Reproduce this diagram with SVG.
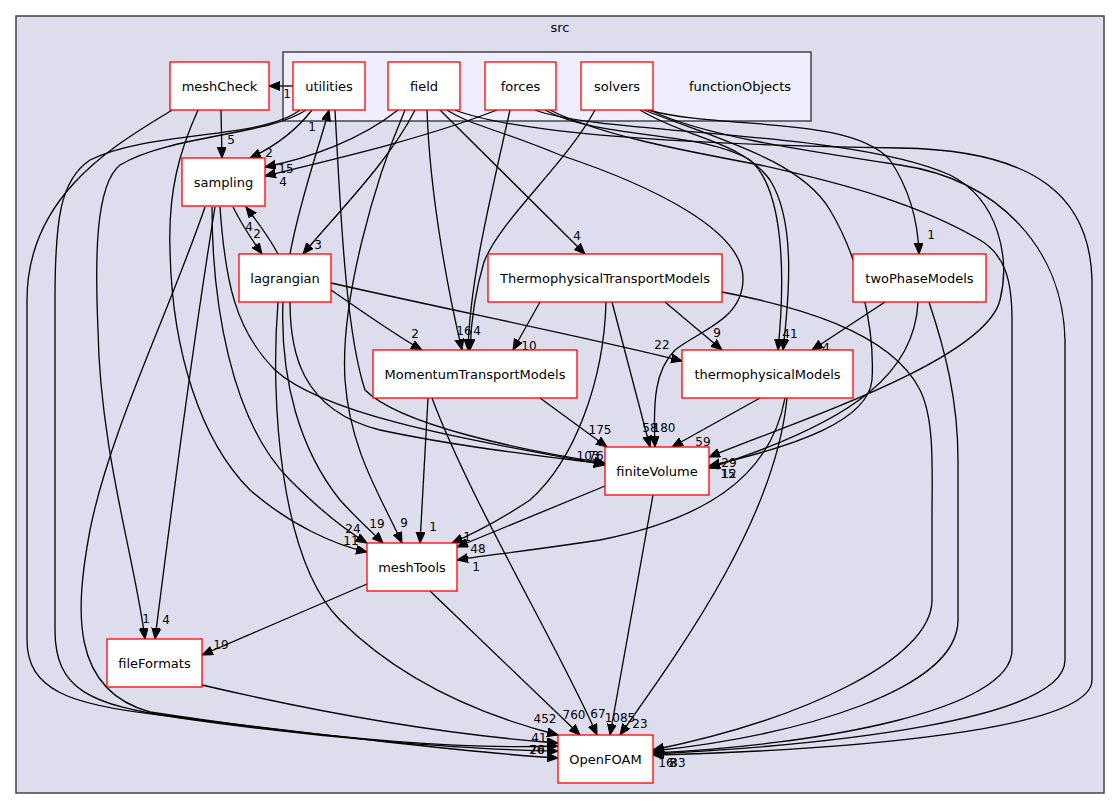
<svg xmlns="http://www.w3.org/2000/svg" width="1120" height="809" viewBox="0 0 1120 809">
<style>
.cl{stroke:#444;stroke-width:1.5}
.nd rect{fill:#fff;stroke:#ff0000;stroke-width:1.3}
text{font-family:"DejaVu Sans","Liberation Sans",sans-serif;fill:#000}
.nt{font-size:13px;text-anchor:middle}
.el{font-size:12px;text-anchor:middle}
#edges path{fill:none;stroke:#000;stroke-width:1.3;marker-end:url(#ah)}
</style>
<defs>
<marker id="ah" markerUnits="userSpaceOnUse" markerWidth="12" markerHeight="10" refX="11" refY="4.5" orient="auto">
<path d="M0,0 L11,4.5 L0,9 z" fill="#000" stroke="#000" stroke-width="1"/>
</marker>
</defs>
<rect width="1120" height="809" fill="#fff"/>
<g id="cluster-src"><rect class="cl" x="16" y="16" width="1088" height="777" fill="#ddddee"/><text class="nt" x="560" y="32">src</text></g>
<g id="cluster-functionObjects"><rect class="cl" x="283" y="52" width="528" height="69" fill="#eeeeff"/><text class="nt" x="740" y="91">functionObjects</text></g>

<g id="edges">
<path d="M293,86 L269,86"/>
<path d="M221,110 L222,158"/>
<path d="M172,110 C125,140 27,190 27,300 L27,640 C27,690 70,705 160,715 C300,732 460,752 558,758"/>
<path d="M198,110 C180,150 168,190 170,250 C172,350 200,440 250,490 C290,525 335,545 367,552"/>
<path d="M312,110 C298,128 278,145 250,158"/>
<path d="M335,110 C340,200 345,330 365,390 C400,425 520,450 605,463"/>
<path d="M300,110 C260,140 150,130 90,160 C60,180 55,220 55,300 L55,630 C55,690 90,705 180,718 C320,738 470,750 558,751"/>
<path d="M306,110 C270,135 170,135 120,165 C95,185 95,260 98,330 C100,450 135,560 145,639"/>
<path d="M398,110 C360,140 310,158 265,167"/>
<path d="M415,110 C390,160 340,210 303,254"/>
<path d="M440,110 L585,254"/>
<path d="M427,110 C430,200 450,300 462,350"/>
<path d="M405,110 C375,180 340,300 345,380 C350,450 380,495 402,543"/>
<path d="M447,110 C470,125 500,130 560,155 C650,185 745,230 743,280 C742,320 700,330 675,350 C655,370 653,400 655,447"/>
<path d="M455,110 C520,135 700,145 900,148 C1040,150 1090,200 1092,280 L1092,680 C1092,730 850,750 653,755"/>
<path d="M497,110 C420,140 330,160 265,176"/>
<path d="M510,110 C490,200 470,280 468,350"/>
<path d="M545,110 C600,140 700,130 750,160 C785,190 785,280 778,350"/>
<path d="M550,110 C600,135 680,150 760,165 C850,185 920,205 980,240 C1005,255 1012,280 1012,320 L1012,650 C1012,710 820,745 653,753"/>
<path d="M535,110 C600,135 850,130 950,175 C1000,200 1010,260 1000,300 C985,360 800,420 709,457"/>
<path d="M595,110 C565,165 500,220 484,262 C474,295 471,325 470,350"/>
<path d="M640,110 C690,140 740,140 770,180 C795,220 790,290 783,350"/>
<path d="M648,110 C720,130 850,115 890,160 C910,190 918,220 919,254"/>
<path d="M650,110 C700,135 800,150 900,165 C1000,180 1063,250 1065,340 L1065,660 C1065,720 830,745 653,754"/>
<path d="M644,110 C720,140 800,160 830,210 C860,260 875,330 872,380 C868,420 800,445 709,466"/>
<path d="M233,207 C242,225 252,240 262,254"/>
<path d="M278,254 C268,235 256,220 246,207"/>
<path d="M215,207 C200,300 175,480 155,639"/>
<path d="M205,207 C170,310 110,430 90,530 C75,610 70,690 150,712 C300,735 450,750 558,746"/>
<path d="M212,207 C212,300 230,420 290,480 C320,510 345,530 367,543"/>
<path d="M220,207 C225,280 235,330 275,370 C330,420 500,445 605,465"/>
<path d="M290,254 C300,200 318,150 329,110"/>
<path d="M331,290 C360,310 395,335 422,350"/>
<path d="M331,283 C450,310 600,340 682,361"/>
<path d="M290,302 C290,350 300,410 380,430 C450,445 530,455 605,464"/>
<path d="M283,302 C280,380 300,450 340,500 C358,520 375,535 383,543"/>
<path d="M278,302 C270,400 280,560 340,620 C400,680 480,715 558,735"/>
<path d="M540,302 L513,350"/>
<path d="M665,302 L722,350"/>
<path d="M612,302 L650,447"/>
<path d="M606,302 C604,380 575,460 530,500 C500,520 470,535 452,543"/>
<path d="M722,292 C790,305 890,330 920,390 C935,420 932,470 932,520 L932,600 C932,660 800,720 653,750"/>
<path d="M885,302 L812,350"/>
<path d="M918,302 C915,370 860,420 709,468"/>
<path d="M929,302 C945,350 958,400 958,460 L958,620 C958,690 800,735 653,751"/>
<path d="M540,398 L607,447"/>
<path d="M428,398 L420,543"/>
<path d="M432,398 C470,500 560,650 597,735"/>
<path d="M760,398 L672,447"/>
<path d="M785,398 C770,480 700,520 600,540 C520,552 480,556 457,560"/>
<path d="M787,398 C775,520 680,650 620,735"/>
<path d="M605,486 L457,547"/>
<path d="M653,495 L610,735"/>
<path d="M367,584 L202,655"/>
<path d="M430,591 L580,735"/>
<path d="M202,685 C330,715 450,735 558,743"/>
</g>

<g id="edge-labels">
<text class="el" x="287" y="98">1</text>
<text class="el" x="231" y="144">5</text>
<text class="el" x="269" y="157">2</text>
<text class="el" x="286" y="173">15</text>
<text class="el" x="283" y="186">4</text>
<text class="el" x="249" y="231">4</text>
<text class="el" x="257" y="238">2</text>
<text class="el" x="318" y="249">3</text>
<text class="el" x="312" y="131">1</text>
<text class="el" x="577" y="240">4</text>
<text class="el" x="931" y="239">1</text>
<text class="el" x="415" y="338">2</text>
<text class="el" x="464" y="335">16</text>
<text class="el" x="477" y="335">4</text>
<text class="el" x="529" y="350">10</text>
<text class="el" x="662" y="349">22</text>
<text class="el" x="717" y="337">9</text>
<text class="el" x="790" y="338">41</text>
<text class="el" x="826" y="352">4</text>
<text class="el" x="600" y="434">175</text>
<text class="el" x="650" y="432">58</text>
<text class="el" x="664" y="432">180</text>
<text class="el" x="703" y="446">59</text>
<text class="el" x="588" y="460">103</text>
<text class="el" x="596" y="460">76</text>
<text class="el" x="729" y="467">29</text>
<text class="el" x="728" y="478">15</text>
<text class="el" x="729" y="478">12</text>
<text class="el" x="353" y="533">24</text>
<text class="el" x="351" y="545">11</text>
<text class="el" x="377" y="528">19</text>
<text class="el" x="404" y="527">9</text>
<text class="el" x="433" y="531">1</text>
<text class="el" x="467" y="541">1</text>
<text class="el" x="478" y="553">48</text>
<text class="el" x="476" y="571">1</text>
<text class="el" x="146" y="623">1</text>
<text class="el" x="166" y="624">4</text>
<text class="el" x="221" y="649">19</text>
<text class="el" x="545" y="723">452</text>
<text class="el" x="574" y="719">760</text>
<text class="el" x="598" y="718">67</text>
<text class="el" x="620" y="722">1085</text>
<text class="el" x="640" y="728">23</text>
<text class="el" x="539" y="742">41</text>
<text class="el" x="537" y="754">70</text>
<text class="el" x="537" y="754">26</text>
<text class="el" x="666" y="767">16</text>
<text class="el" x="673" y="767">8</text>
<text class="el" x="678" y="767">33</text>
</g>

<g id="meshCheck" class="nd"><rect x="170" y="62" width="99" height="48"/><text class="nt" x="219.5" y="91">meshCheck</text></g>
<g id="utilities" class="nd"><rect x="293" y="62" width="72" height="48"/><text class="nt" x="329" y="91">utilities</text></g>
<g id="field" class="nd"><rect x="388" y="62" width="72" height="48"/><text class="nt" x="424" y="91">field</text></g>
<g id="forces" class="nd"><rect x="485" y="62" width="71" height="48"/><text class="nt" x="520.5" y="91">forces</text></g>
<g id="solvers" class="nd"><rect x="581" y="62" width="72" height="48"/><text class="nt" x="617" y="91">solvers</text></g>
<g id="sampling" class="nd"><rect x="182" y="158" width="83" height="48"/><text class="nt" x="223.5" y="187">sampling</text></g>
<g id="lagrangian" class="nd"><rect x="239" y="254" width="92" height="48"/><text class="nt" x="285" y="283">lagrangian</text></g>
<g id="ThermophysicalTransportModels" class="nd"><rect x="488" y="254" width="234" height="48"/><text class="nt" x="605" y="283">ThermophysicalTransportModels</text></g>
<g id="twoPhaseModels" class="nd"><rect x="853" y="254" width="133" height="48"/><text class="nt" x="919.5" y="283">twoPhaseModels</text></g>
<g id="MomentumTransportModels" class="nd"><rect x="373" y="350" width="204" height="48"/><text class="nt" x="475" y="379">MomentumTransportModels</text></g>
<g id="thermophysicalModels" class="nd"><rect x="682" y="350" width="171" height="48"/><text class="nt" x="767.5" y="379">thermophysicalModels</text></g>
<g id="finiteVolume" class="nd"><rect x="605" y="447" width="104" height="48"/><text class="nt" x="657" y="476">finiteVolume</text></g>
<g id="meshTools" class="nd"><rect x="367" y="543" width="90" height="48"/><text class="nt" x="412" y="572">meshTools</text></g>
<g id="fileFormats" class="nd"><rect x="107" y="639" width="95" height="48"/><text class="nt" x="154.5" y="668">fileFormats</text></g>
<g id="OpenFOAM" class="nd"><rect x="558" y="735" width="95" height="48"/><text class="nt" x="605.5" y="764">OpenFOAM</text></g>
</svg>
